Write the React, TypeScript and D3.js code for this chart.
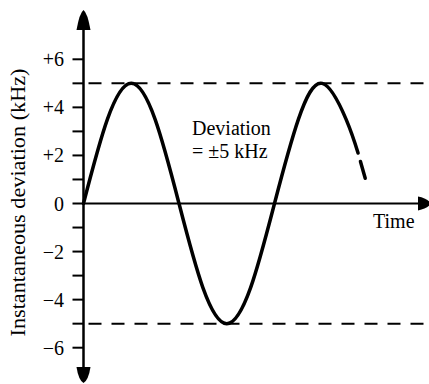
import * as d3 from "d3";

// time in quarter periods, deviation in kHz
const timeSteps = [0, 0.5, 1, 1.5, 2, 2.5, 3, 3.5, 4, 4.5, 5, 5.5, 5.75];
const deviation = [0, 3.5, 5, 3.5, 0, -3.5, -5, -3.5, 0, 3.5, 5, 3.5, 2.1];
const tailTime = [5.8, 5.9];
const tailDeviation = [1.75, 1.05];

const yTicks = [-6, -5, -4, -3, -2, -1, 0, 1, 2, 3, 4, 5, 6];
const yTickLabels = ["−6", "", "−4", "", "−2", "", "0", "", "+2", "", "+4", "", "+6"];
const limitLines = [5, -5];

const W = 429;
const H = 384;
const textStyle = { fontFamily: "'Liberation Serif', 'Times New Roman', serif", fontSize: 20 };

export default function App() {
  const axisX = 83.5;
  const x = d3.scaleLinear().domain([0, 7.2]).range([axisX, axisX + 47.75 * 7.2]);
  const y = d3.scaleLinear().domain([-6, 6]).range([347.7, 59.3]);
  const y0 = y(0);

  const line = d3
    .line<number>()
    .x((_, i) => x(timeSteps[i]))
    .y((d) => y(d))
    .curve(d3.curveNatural);

  const tail = d3
    .line<number>()
    .x((_, i) => x(tailTime[i]))
    .y((d) => y(d));

  const topTip = 10;
  const botTip = 383;
  const rightTip = 431;

  return (
    <svg
      width={W}
      height={H}
      style={{ position: "absolute", left: 0, top: 0, background: "#fff" }}
    >
      {/* dashed limits */}
      {limitLines.map((v) => (
        <line
          key={v}
          x1={axisX + 5}
          x2={W}
          y1={y(v)}
          y2={y(v)}
          stroke="#000"
          strokeWidth={2}
          strokeDasharray="13 10"
        />
      ))}

      {/* y axis */}
      <line x1={axisX} x2={axisX} y1={topTip + 10} y2={botTip - 10} stroke="#000" strokeWidth={2.5} />
      <path
        d={`M${axisX},${topTip} Q${axisX + 4},${topTip + 3} ${axisX + 7},${topTip + 20} L${axisX - 7},${topTip + 20} Q${axisX - 4},${topTip + 3} ${axisX},${topTip} Z`}
        fill="#000"
      />
      <path
        d={`M${axisX},${botTip} Q${axisX + 5},${botTip - 3} ${axisX + 7},${botTip - 16} L${axisX - 7},${botTip - 16} Q${axisX - 5},${botTip - 3} ${axisX},${botTip} Z`}
        fill="#000"
      />
      {yTicks.map((t, i) => (
        <g key={t}>
          <line x1={axisX - 11} x2={axisX} y1={y(t)} y2={y(t)} stroke="#000" strokeWidth={2} />
          {yTickLabels[i] && (
            <text x={64} y={y(t)} dy="0.35em" textAnchor="end" style={textStyle}>
              {yTickLabels[i]}
            </text>
          )}
        </g>
      ))}

      {/* x axis */}
      <line x1={axisX} x2={rightTip - 10} y1={y0} y2={y0} stroke="#000" strokeWidth={2} />
      <path
        d={`M${rightTip},${y0} Q${rightTip - 3},${y0 + 5} ${rightTip - 13},${y0 + 7} L${rightTip - 13},${y0 - 7} Q${rightTip - 3},${y0 - 5} ${rightTip},${y0} Z`}
        fill="#000"
      />
      <text x={373} y={228} style={textStyle}>
        Time
      </text>

      {/* y label */}
      <text
        transform={`translate(25,${(68 + 337) / 2}) rotate(-90)`}
        textAnchor="middle"
        style={textStyle}
        textLength={268}
        lengthAdjust="spacingAndGlyphs"
      >
        Instantaneous deviation (kHz)
      </text>

      {/* wave */}
      <path d={line(deviation) || ""} fill="none" stroke="#000" strokeWidth={3.5} strokeLinecap="round" />
      <path d={tail(tailDeviation) || ""} fill="none" stroke="#000" strokeWidth={3.5} strokeLinecap="round" />

      {/* annotation */}
      <text x={192} y={135} style={textStyle}>
        Deviation
      </text>
      <text x={192} y={158} style={textStyle}>
        = ±5 kHz
      </text>
    </svg>
  );
}
